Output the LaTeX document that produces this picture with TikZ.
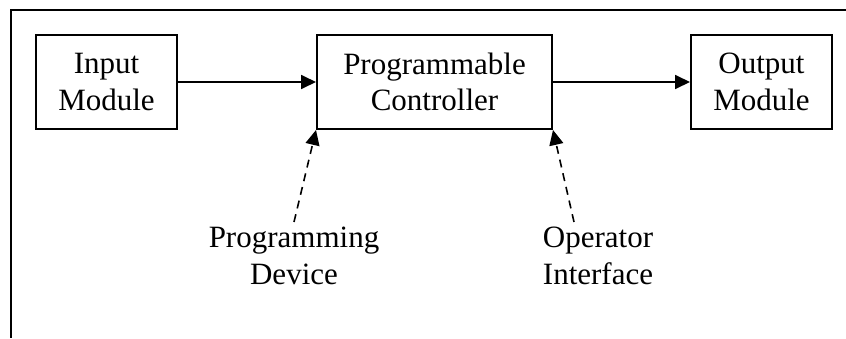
\documentclass[tikz,border=0pt]{standalone}
\usepackage{fontspec}
\setmainfont{Liberation Serif}
\usetikzlibrary{arrows.meta}
\begin{document}
\begin{tikzpicture}[x=1pt,y=1pt,
  box/.style={draw, line width=2pt, inner sep=0pt, minimum height=94pt, align=center, font=\fontsize{31}{36.5}\selectfont},
  lbl/.style={inner sep=0pt, align=center, anchor=north, font=\fontsize{31}{37}\selectfont},
  arr/.style={line width=1.8pt, -{Triangle[length=15pt,width=14pt]}},
  darr/.style={line width=1.6pt, dash pattern=on 8pt off 6pt, -{Triangle[length=15pt,width=14pt]}}]
\useasboundingbox (0,0) rectangle (846,-338);
\draw[line width=2.5pt] (846,-10) -- (11,-10) -- (11,-338);
\node[box, minimum width=141pt] (in) at (106.5,-82) {Input\\Module};
\node[box, minimum width=235pt] (pc) at (434.5,-82) {Programmable\\Controller};
\node[box, minimum width=141pt] (out) at (761.5,-82) {Output\\Module};
\draw[arr] (in) -- (pc);
\draw[arr] (pc) -- (out);
\node[lbl] (pd) at (294,-227) {Programming\\Device};
\node[lbl] (oi) at (598,-227) {Operator\\Interface};
\coordinate (pdt) at (294,-222);
\coordinate (oit) at (574,-222);
\draw[darr] (pdt) -- (pc.south west);
\draw[darr] (oit) -- (pc.south east);
\end{tikzpicture}
\end{document}
